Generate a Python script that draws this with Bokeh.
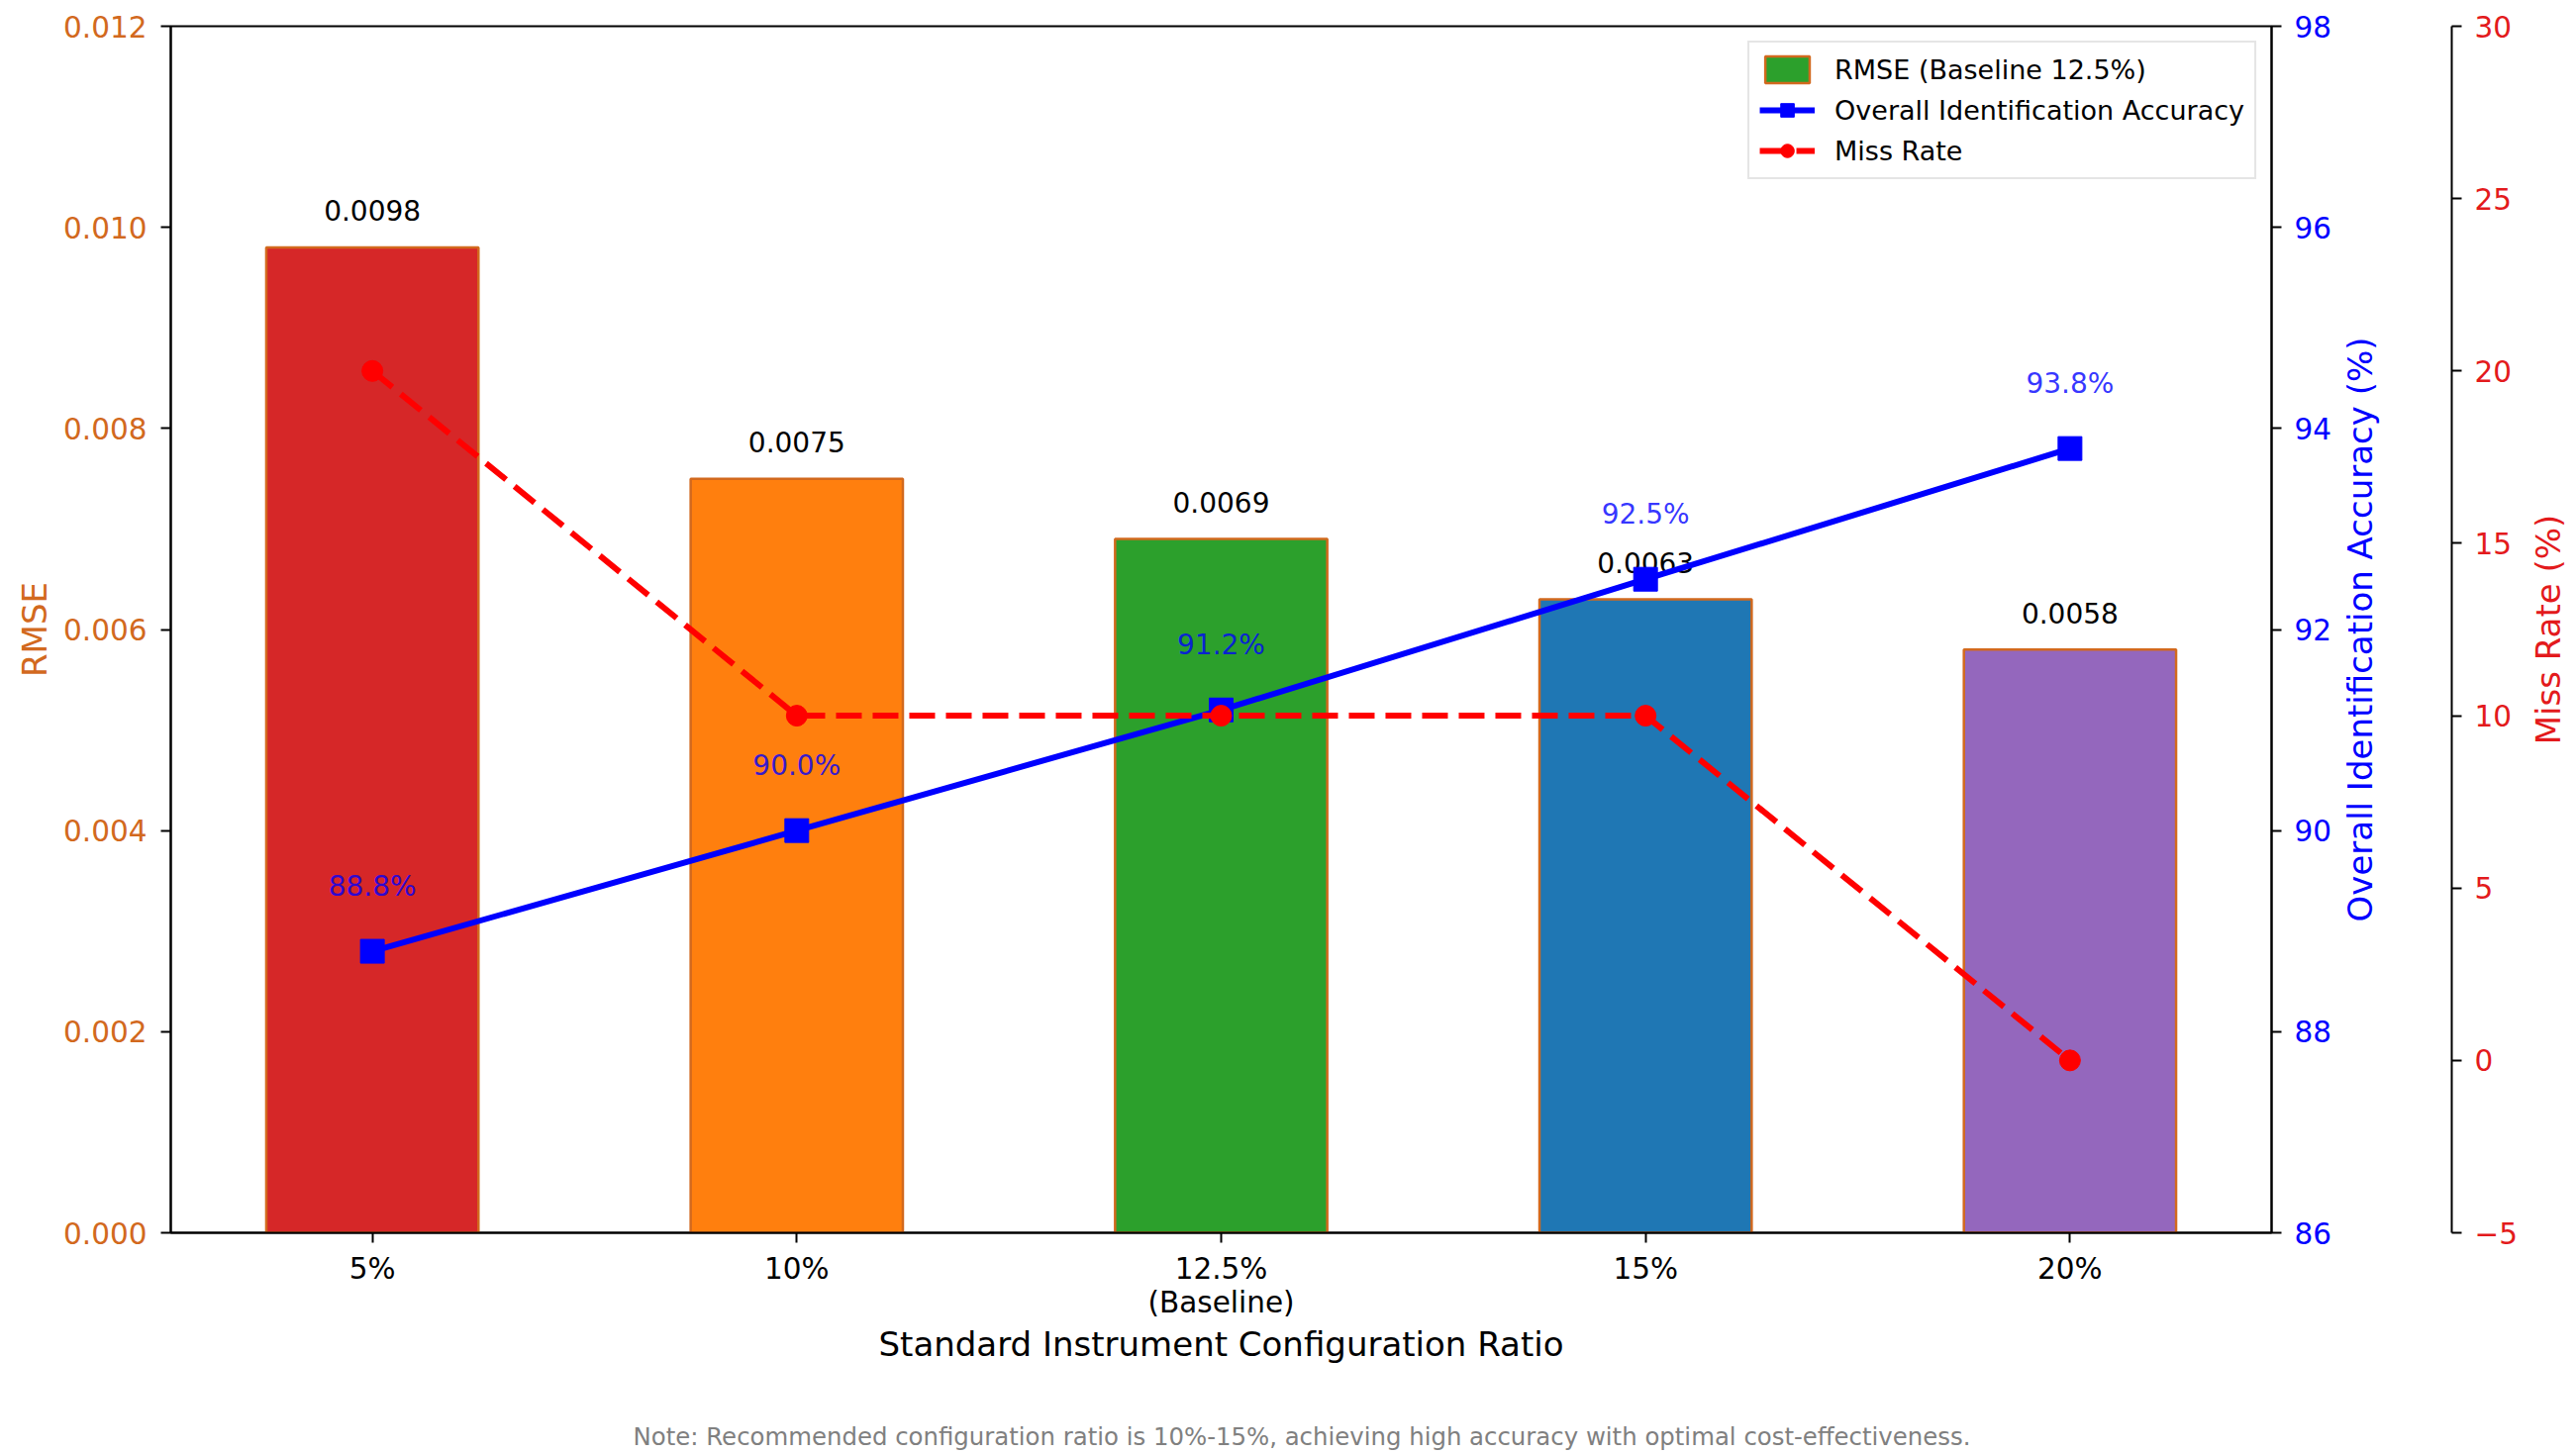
from bokeh.plotting import figure
from bokeh.layouts import column, row
from bokeh.models import (Range1d, LinearAxis, FixedTicker, Legend, LegendItem,
                          Div, ColumnDataSource)
from bokeh.core.properties import value
from bokeh.embed import file_html
from bokeh.resources import INLINE

# ---- data ----
categories = ["5%", "10%", "12.5%\n(Baseline)", "15%", "20%"]
rmse = [0.0098, 0.0075, 0.0069, 0.0063, 0.0058]
accuracy = [88.8, 90.0, 91.2, 92.5, 93.8]
miss_rate = [20, 10, 10, 10, 0]
bar_colors = ["#d62728", "#ff7f0e", "#2ca02c", "#1f77b4", "#9467bd"]
rmse_ticks = [0.0, 0.002, 0.004, 0.006, 0.008, 0.010, 0.012]
acc_ticks = [86, 88, 90, 92, 94, 96, 98]
miss_ticks = [-5, 0, 5, 10, 15, 20, 25, 30]
note_text = "Note: Recommended configuration ratio is 10%-15%, achieving high accuracy with optimal cost-effectiveness."

FONT = "DejaVu Sans"
ORANGE = "#D2691E"
BLUE = "#0000ff"
RED = "#e31a1c"
TICK_FS = "29.5px"
LABEL_FS = "34px"

xs = list(range(len(categories)))
src = ColumnDataSource(dict(
    x=xs, rmse=rmse, acc=accuracy, miss=miss_rate, color=bar_colors,
    rmse_lbl=[f"{v:.4f}" for v in rmse],
    acc_lbl=[f"{v:.1f}%" for v in accuracy],
))

W, H_TOTAL, NOTE_H = 2600, 1462, 30
H = H_TOTAL - NOTE_H
FRAME_L, FRAME_R, FRAME_T, FRAME_B = 172, 2296, 26, 1245
MAIN_W = FRAME_R + 62
MISS_SPINE = 2480
P2_W = MISS_SPINE + 65 - MAIN_W
P3_W = W - MAIN_W - P2_W

common = dict(height=H, output_backend="svg", toolbar_location=None,
              min_border_top=FRAME_T, min_border_bottom=H - FRAME_B)

p = figure(width=MAIN_W, x_range=Range1d(-0.475, 4.475),
           y_range=Range1d(rmse_ticks[0], rmse_ticks[-1]),
           min_border_left=FRAME_L, min_border_right=MAIN_W - FRAME_R, **common)
p.extra_y_ranges = {"acc": Range1d(acc_ticks[0], acc_ticks[-1]),
                    "miss": Range1d(miss_ticks[0], miss_ticks[-1])}
p.grid.visible = False
p.outline_line_color = "black"
p.outline_line_width = 2

def style_axis(ax, color, label_color):
    ax.axis_line_width = 2
    ax.axis_line_color = "black"
    ax.major_tick_line_width = 2
    ax.major_tick_line_color = "black"
    ax.major_tick_out = 10
    ax.major_tick_in = 0
    ax.minor_tick_line_color = None
    ax.minor_tick_out = 0
    ax.major_label_text_font = FONT
    ax.major_label_text_font_size = TICK_FS
    ax.major_label_text_color = color
    ax.major_label_standoff = 13
    ax.axis_label_text_font = FONT
    ax.axis_label_text_font_size = LABEL_FS
    ax.axis_label_text_font_style = "normal"
    ax.axis_label_text_color = label_color

def title_axis(fig, text, color, standoff):
    """An axis with no ticks, used only to carry an upward-reading title."""
    ax = LinearAxis(ticker=FixedTicker(ticks=[]), axis_line_color=None,
                    major_tick_line_color=None, minor_tick_line_color=None,
                    major_tick_out=0, minor_tick_out=0, axis_label=text,
                    axis_label_standoff=standoff, axis_label_text_font=FONT,
                    axis_label_text_font_size=LABEL_FS,
                    axis_label_text_font_style="normal",
                    axis_label_text_color=color)
    fig.add_layout(ax, "left")

# x axis
xa = p.xaxis[0]
style_axis(xa, "black", "black")
xa.ticker = FixedTicker(ticks=xs)
xa.major_label_overrides = {i: c for i, c in zip(xs, categories)}
xa.major_label_text_line_height = 1.0
xa.major_label_standoff = 9
xa.axis_label = "Standard Instrument Configuration Ratio"
xa.axis_label_standoff = 2

# left axis
ya = p.yaxis[0]
style_axis(ya, ORANGE, ORANGE)
ya.ticker = FixedTicker(ticks=rmse_ticks)
ya.major_label_overrides = {t: f"{t:.3f}" for t in rmse_ticks}
ya.major_label_standoff = 14
ya.axis_label = "RMSE"
ya.axis_label_standoff = 6

# right axis: accuracy (ticks only; its title sits in the next panel)
ax_acc = LinearAxis(y_range_name="acc", ticker=FixedTicker(ticks=acc_ticks))
style_axis(ax_acc, BLUE, BLUE)
p.add_layout(ax_acc, "right")

# bars
bars = p.vbar(x="x", top="rmse", width=0.5, source=src, fill_color="color",
              fill_alpha=1.0, line_color=ORANGE, line_width=2.5)
p.text(x="x", y="rmse", text="rmse_lbl", source=src, y_offset=-37,
       text_align="center", text_baseline="middle", text_font=value(FONT),
       text_font_size="28px", text_color="black")

# accuracy line
acc_line = p.line(x="x", y="acc", source=src, y_range_name="acc",
                  line_color=BLUE, line_width=6)
acc_pts = p.scatter(x="x", y="acc", source=src, y_range_name="acc",
                    marker="square", size=24, fill_color=BLUE, line_color=BLUE)

# miss rate line
miss_line = p.line(x="x", y="miss", source=src, y_range_name="miss",
                   line_color="#ff0000", line_width=6, line_dash="26 11")
miss_pts = p.scatter(x="x", y="miss", source=src, y_range_name="miss",
                     marker="circle", size=21, fill_color="#ff0000",
                     line_color="#ff0000")

# accuracy labels
p.text(x="x", y="acc", text="acc_lbl", source=src, y_range_name="acc",
       y_offset=-66, text_align="center", text_baseline="middle",
       text_font=value(FONT), text_font_size="28px", text_color=BLUE,
       text_alpha=0.8)

legend = Legend(items=[
    LegendItem(label="RMSE (Baseline 12.5%)", renderers=[bars], index=2),
    LegendItem(label="Overall Identification Accuracy", renderers=[acc_line, acc_pts]),
    LegendItem(label="Miss Rate", renderers=[miss_line, miss_pts]),
], location="top_right")
legend.label_text_font = FONT
legend.label_text_font_size = "27px"
legend.label_text_color = "black"
legend.label_text_baseline = "middle"
legend.glyph_width = 56
legend.glyph_height = 34
legend.label_height = 34
legend.spacing = 7
legend.padding = 10
legend.label_standoff = 20
legend.margin = 15
legend.border_line_color = "#cccccc"
legend.border_line_width = 2
legend.background_fill_alpha = 0.9
p.add_layout(legend)

# panel 2: accuracy title + miss-rate axis
p2 = figure(width=P2_W, x_range=Range1d(0, 1),
            y_range=Range1d(miss_ticks[0], miss_ticks[-1]),
            x_axis_location=None, y_axis_location=None,
            min_border_left=57, min_border_right=MAIN_W + P2_W - MISS_SPINE,
            **common)
p2.outline_line_color = None
p2.grid.visible = False
title_axis(p2, "Overall Identification Accuracy (%)", BLUE, 12)
ax_miss = LinearAxis(ticker=FixedTicker(ticks=miss_ticks))
style_axis(ax_miss, RED, RED)
ax_miss.major_label_overrides = {-5: "\u22125"}
p2.add_layout(ax_miss, "right")

# panel 3: miss-rate title
p3 = figure(width=P3_W, x_range=Range1d(0, 1), y_range=Range1d(0, 1),
            x_axis_location=None, y_axis_location=None,
            min_border_left=48, min_border_right=0, **common)
p3.outline_line_color = None
p3.grid.visible = False
title_axis(p3, "Miss Rate (%)", RED, 0)

# footnote, centred on the whole figure
note = Div(text=note_text, width=W, height=NOTE_H,
           styles={"text-align": "center", "color": "#808080",
                   "font-family": FONT, "font-size": "24.4px",
                   "line-height": f"{NOTE_H}px", "padding-left": "20px",
                   "box-sizing": "border-box", "width": f"{W}px"})

layout = column(row(p, p2, p3, spacing=0), note, spacing=0)
open("out.html", "w").write(file_html(layout, INLINE))
